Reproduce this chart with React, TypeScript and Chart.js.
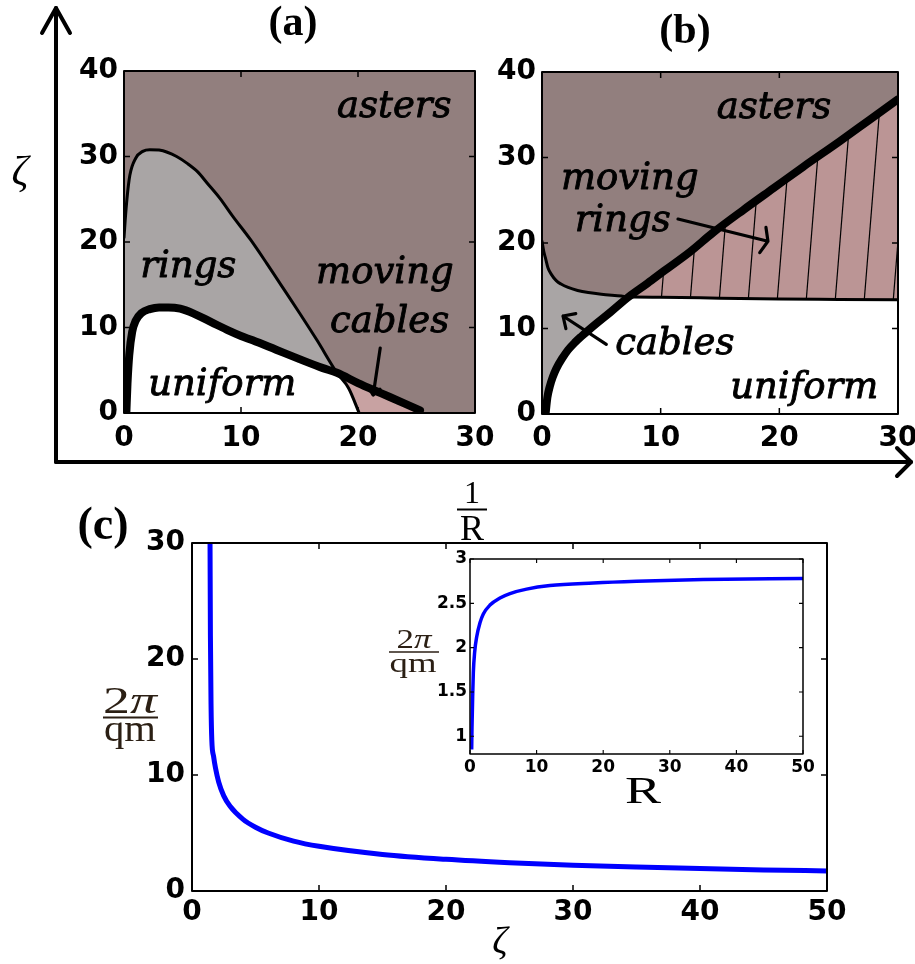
import React, { useEffect, useRef } from "react";
import { Chart, registerables } from "chart.js";

Chart.register(...registerables);

// ---------------- data ----------------
// panel (a): x = 1/R, y = zeta
const A_THIN_X = [0, 0.1, 0.25, 0.5, 1.0, 1.6, 2.2, 3.0, 3.7, 4.5, 5.4, 6.3, 7.1, 8.2, 9.3, 10.8, 12.2, 13.6, 15.0, 16.5, 18.2, 19.2, 20.1];
const A_THIN_Y = [20.5, 22.5, 25.0, 27.8, 29.8, 30.6, 30.8, 30.75, 30.5, 30.0, 29.2, 28.2, 26.9, 25.1, 23.0, 20.3, 17.5, 14.6, 11.7, 8.5, 4.7, 2.9, 0];
const A_THICK_X = [0.2, 0.3, 0.45, 0.7, 1.0, 1.5, 2.2, 3.0, 3.8, 4.8, 6.0, 7.5, 9.0, 10.0, 11.0, 13.0, 15.0, 17.0, 18.2, 20.0, 22.0, 24.0, 25.3];
const A_THICK_Y = [0, 3.5, 6.8, 9.5, 10.8, 11.7, 12.15, 12.35, 12.35, 12.2, 11.6, 10.6, 9.6, 9.0, 8.5, 7.4, 6.3, 5.25, 4.7, 3.5, 2.3, 1.1, 0.3];
const A_CROSS = 18.2;

// panel (b)
const B_THIN_X = [0, 0.15, 0.3, 0.5, 0.8, 1.2, 1.6, 2.2, 3.0, 3.9, 5.0, 6.7, 7.3, 10, 15, 20, 25, 30];
const B_THIN_Y = [20.2, 19.0, 18.2, 17.1, 16.3, 15.6, 15.2, 14.8, 14.45, 14.2, 14.0, 13.8, 13.7, 13.65, 13.55, 13.45, 13.4, 13.35];
const B_THICK_X = [0.3, 0.45, 0.65, 0.9, 1.2, 1.7, 2.2, 2.8, 3.3, 4.0, 4.6, 5.8, 7.3, 8.9, 10.3, 12.5, 14.4, 17.0, 19.5, 22.0, 25.1, 27.5, 30];
const B_THICK_Y = [0, 1.9, 3.2, 4.3, 5.3, 6.5, 7.5, 8.4, 9.05, 9.9, 10.6, 11.95, 13.7, 15.3, 16.75, 19.0, 21.2, 23.9, 26.4, 28.9, 31.9, 34.3, 36.8];
const B_CROSS = 7.3;

// panel (c): x = zeta, y = 2pi/qm
const C_ZETA = [1.42, 1.45, 1.5, 1.56, 1.7, 1.85, 2.1, 2.5, 3.0, 4.0, 5.0, 6.0, 8.0, 10, 15, 20, 25, 30, 35, 40, 45, 50];
const C_PERIOD = [30, 22, 16, 13, 11.6, 10.6, 9.4, 8.2, 7.3, 6.2, 5.5, 5.0, 4.3, 3.85, 3.15, 2.73, 2.44, 2.22, 2.06, 1.93, 1.82, 1.73];

// inset: x = R, y = 2pi/qm
const INSET_R = [0.25, 0.3, 0.4, 0.5, 0.7, 1.0, 1.5, 2.0, 3.0, 4.5, 6.0, 8.5, 12, 18.5, 25, 35, 50];
const INSET_PERIOD = [0.85, 1.1, 1.45, 1.72, 1.95, 2.12, 2.28, 2.38, 2.48, 2.56, 2.61, 2.66, 2.7, 2.73, 2.75, 2.77, 2.78];

// tick labels
const AB_X_TICKS = [0, 10, 20, 30];
const AB_Y_TICKS = [0, 10, 20, 30, 40];
const C_X_TICKS = [0, 10, 20, 30, 40, 50];
const C_Y_TICKS = [0, 10, 20, 30];
const INSET_X_TICKS = [0, 10, 20, 30, 40, 50];
const INSET_Y_TICKS = [1, 1.5, 2, 2.5, 3];

// region annotations (data coordinates)
const A_LABELS = [
  { text: "asters", x: 23.1, y: 34.6 },
  { text: "rings", x: 5.5, y: 15.9 },
  { text: "moving", x: 22.3, y: 15.2 },
  { text: "cables", x: 22.7, y: 9.5 },
  { text: "uniform", x: 8.4, y: 2.1 },
];
const A_ARROWS = [{ from: [21.9, 7.6], to: [21.3, 2.1], head: 9, spread: 40 }];
const B_LABELS = [
  { text: "asters", x: 19.55, y: 34.6 },
  { text: "moving", x: 7.4, y: 26.3 },
  { text: "rings", x: 6.8, y: 21.4 },
  { text: "cables", x: 11.2, y: 7.0 },
  { text: "uniform", x: 22.1, y: 1.87 },
];
const B_ARROWS = [
  { from: [11.46, 22.8], to: [19.04, 20.2], head: 14, spread: 68 },
  { from: [5.42, 8.15], to: [1.77, 11.46], head: 13, spread: 44 },
];

// ---------------- styles ----------------
const MAUVE = "#927f7e";
const GREY = "#a9a5a5";
const PINK_A = "#c8a2a2";
const PINK_B = "#bb9595";
const WHITE = "#ffffff";
const BLUE = "#0000ff";
const SANS = "'DejaVu Sans', sans-serif";
const ANNOT_FONT = "italic 37px 'DejaVu Serif', serif";

type P = { x: number; y: number };
const pts = (xs: number[], ys: number[]): P[] => xs.map((x, i) => ({ x, y: ys[i] }));

function axis(min: number, max: number, values: number[], size: number, pad: number, fit: number, position: string) {
  return {
    type: "linear",
    position,
    min,
    max,
    afterBuildTicks: (s: any) => {
      s.ticks = values.map((v) => ({ value: v }));
    },
    ticks: {
      font: { family: SANS, weight: "bold", size },
      color: "#000",
      padding: pad,
      autoSkip: false,
      maxRotation: 0,
      minRotation: 0,
      callback: (v: number) => String(v),
    },
    grid: { display: false, drawTicks: false },
    border: { display: false },
    afterFit: (s: any) => {
      if (s.isHorizontal()) s.height = fit;
      else s.width = fit;
      s.paddingLeft = 0;
      s.paddingRight = 0;
      s.paddingTop = 0;
      s.paddingBottom = 0;
    },
  };
}

function framePlugin(o: { bg?: string; lw: number; tick: number; labels?: any[]; arrows?: any[]; arrowWidth?: number }) {
  return {
    id: "frame",
    beforeDraw(chart: any) {
      if (!o.bg) return;
      const { ctx, chartArea: a } = chart;
      ctx.save();
      ctx.fillStyle = o.bg;
      ctx.fillRect(a.left, a.top, a.right - a.left, a.bottom - a.top);
      ctx.restore();
    },
    afterDatasetsDraw(chart: any) {
      const { ctx, chartArea: a, scales } = chart;
      const xs = scales.x;
      const ys = scales.y;
      ctx.save();
      ctx.fillStyle = "#000";
      ctx.strokeStyle = "#000";
      ctx.font = ANNOT_FONT;
      ctx.textAlign = "center";
      ctx.textBaseline = "alphabetic";
      ctx.lineWidth = 0.9;
      ctx.lineJoin = "round";
      for (const l of o.labels || []) {
        const px = xs.getPixelForValue(l.x);
        const py = ys.getPixelForValue(l.y);
        ctx.fillText(l.text, px, py);
        ctx.strokeText(l.text, px, py);
      }
      ctx.lineCap = "round";
      ctx.lineWidth = o.arrowWidth || 3;
      for (const ar of o.arrows || []) {
        const x1 = xs.getPixelForValue(ar.from[0]);
        const y1 = ys.getPixelForValue(ar.from[1]);
        const x2 = xs.getPixelForValue(ar.to[0]);
        const y2 = ys.getPixelForValue(ar.to[1]);
        const back = Math.atan2(y1 - y2, x1 - x2);
        const s = (ar.spread * Math.PI) / 180;
        ctx.beginPath();
        ctx.moveTo(x1, y1);
        ctx.lineTo(x2, y2);
        ctx.moveTo(x2 + ar.head * Math.cos(back + s), y2 + ar.head * Math.sin(back + s));
        ctx.lineTo(x2, y2);
        ctx.lineTo(x2 + ar.head * Math.cos(back - s), y2 + ar.head * Math.sin(back - s));
        ctx.stroke();
      }
      ctx.lineCap = "butt";
      ctx.lineWidth = o.lw;
      ctx.strokeRect(a.left, a.top, a.right - a.left, a.bottom - a.top);
      ctx.lineWidth = Math.max(1, o.lw * 0.75);
      ctx.beginPath();
      for (const t of xs.ticks) {
        const px = xs.getPixelForValue(t.value);
        ctx.moveTo(px, a.bottom);
        ctx.lineTo(px, a.bottom - o.tick);
        ctx.moveTo(px, a.top);
        ctx.lineTo(px, a.top + o.tick);
      }
      for (const t of ys.ticks) {
        const py = ys.getPixelForValue(t.value);
        ctx.moveTo(a.left, py);
        ctx.lineTo(a.left + o.tick, py);
        ctx.moveTo(a.right, py);
        ctx.lineTo(a.right - o.tick, py);
      }
      ctx.stroke();
      ctx.restore();
    },
  };
}

function hatch(color: string) {
  const W = 29;
  const H = 360;
  const c = document.createElement("canvas");
  c.width = W;
  c.height = H;
  const g = c.getContext("2d")!;
  g.fillStyle = color;
  g.fillRect(0, 0, W, H);
  g.strokeStyle = "#000";
  g.lineWidth = 1.2;
  for (const off of [-W, 0, W]) {
    g.beginPath();
    g.moveTo(W + off, 0);
    g.lineTo(off, H);
    g.stroke();
  }
  return g.createPattern(c, "repeat");
}

function phaseConfig(p: any) {
  const thin = pts(p.thinX, p.thinY);
  const thick = pts(p.thickX, p.thickY);
  // boundary of the "uniform" region: thick curve up to the crossing, then the thin curve
  const uniformEdge = thick.filter((q) => q.x <= p.cross).concat(thin.filter((q) => q.x > p.cross));
  const area = (data: P[], bg: any) => ({
    data,
    fill: "origin",
    backgroundColor: bg,
    borderColor: "rgba(0,0,0,0)",
    borderWidth: 0,
    pointRadius: 0,
    cubicInterpolationMode: "monotone",
    clip: 0,
  });
  const curve = (data: P[], bw: number) => ({
    data,
    fill: false,
    borderColor: "#000",
    borderWidth: bw,
    borderCapStyle: "round",
    borderJoinStyle: "round",
    pointRadius: 0,
    cubicInterpolationMode: "monotone",
    clip: 0,
  });
  return {
    type: "line",
    data: {
      datasets: [
        curve(thick, 8),
        curve(thin, 3),
        area(uniformEdge, WHITE),
        area(thick.filter((q) => q.x >= p.cross), p.pink),
        area(thin.filter((q) => q.x <= p.cross), GREY),
      ],
    },
    options: {
      responsive: false,
      maintainAspectRatio: false,
      animation: false,
      devicePixelRatio: 1,
      events: [],
      layout: { padding: p.padding },
      plugins: { legend: { display: false }, tooltip: { enabled: false }, filler: { drawTime: "beforeDatasetsDraw" } },
      scales: {
        x: axis(0, 30, AB_X_TICKS, 28, p.xPad, p.xFit, "bottom"),
        y: axis(0, 40, AB_Y_TICKS, 28, 6, 64, "left"),
      },
    },
    plugins: [framePlugin({ bg: MAUVE, lw: 2, tick: 6, labels: p.labels, arrows: p.arrows, arrowWidth: 3.2 })],
  };
}

function makeA() {
  return phaseConfig({
    thinX: A_THIN_X, thinY: A_THIN_Y, thickX: A_THICK_X, thickY: A_THICK_Y, cross: A_CROSS,
    pink: PINK_A, labels: A_LABELS, arrows: A_ARROWS,
    padding: { left: 0, top: 16, right: 25, bottom: 0 }, xPad: 9, xFit: 52,
  });
}

function makeB() {
  return phaseConfig({
    thinX: B_THIN_X, thinY: B_THIN_Y, thickX: B_THICK_X, thickY: B_THICK_Y, cross: B_CROSS,
    pink: hatch(PINK_B), labels: B_LABELS, arrows: B_ARROWS,
    padding: { left: 0, top: 17, right: 17, bottom: 0 }, xPad: 8, xFit: 51,
  });
}

function makeC() {
  return {
    type: "line",
    data: {
      datasets: [
        {
          data: pts(C_ZETA, C_PERIOD),
          borderColor: BLUE,
          borderWidth: 5,
          pointRadius: 0,
          fill: false,
          cubicInterpolationMode: "monotone",
          clip: 0,
        },
      ],
    },
    options: {
      responsive: false,
      maintainAspectRatio: false,
      animation: false,
      devicePixelRatio: 1,
      events: [],
      layout: { padding: { left: 0, top: 23, right: 33, bottom: 0 } },
      plugins: { legend: { display: false }, tooltip: { enabled: false } },
      scales: {
        x: axis(0, 50, C_X_TICKS, 28, 5, 73, "bottom"),
        y: axis(0, 30, C_Y_TICKS, 28, 7, 92, "left"),
      },
    },
    plugins: [framePlugin({ lw: 2, tick: 6 })],
  };
}

function makeInset() {
  return {
    type: "line",
    data: {
      datasets: [
        {
          data: pts(INSET_R, INSET_PERIOD),
          borderColor: BLUE,
          borderWidth: 3.5,
          pointRadius: 0,
          fill: false,
          cubicInterpolationMode: "monotone",
          clip: 0,
        },
      ],
    },
    options: {
      responsive: false,
      maintainAspectRatio: false,
      animation: false,
      devicePixelRatio: 1,
      events: [],
      layout: { padding: { left: 0, top: 14, right: 17, bottom: 0 } },
      plugins: { legend: { display: false }, tooltip: { enabled: false } },
      scales: {
        x: axis(0, 50, INSET_X_TICKS, 17, 3, 51, "bottom"),
        y: axis(0.8, 3, INSET_Y_TICKS, 17, 3, 50, "left"),
      },
    },
    plugins: [framePlugin({ bg: WHITE, lw: 1.5, tick: 4 })],
  };
}

function ChartBox(props: { left: number; top: number; width: number; height: number; make: () => any }) {
  const ref = useRef<HTMLCanvasElement>(null);
  useEffect(() => {
    const chart = new Chart(ref.current as HTMLCanvasElement, props.make());
    return () => chart.destroy();
  }, []);
  return (
    <canvas
      ref={ref}
      width={props.width}
      height={props.height}
      style={{ position: "absolute", left: props.left, top: props.top, width: props.width, height: props.height }}
    />
  );
}

const SERIF = "'Liberation Serif', serif";
const LABEL_INK = "#2b1f14";

export default function App() {
  return (
    <div style={{ position: "absolute", left: 0, top: 0, width: 915, height: 964, background: "#fff", overflow: "hidden" }}>
      <ChartBox left={60} top={55} width={440} height={410} make={makeA} />
      <ChartBox left={478} top={55} width={437} height={410} make={makeB} />
      <ChartBox left={100} top={520} width={760} height={444} make={makeC} />
      <ChartBox left={420} top={545} width={400} height={260} make={makeInset} />
      <svg width={915} height={964} style={{ position: "absolute", left: 0, top: 0, pointerEvents: "none" }}>
        <g stroke="#000" strokeWidth={4} fill="none" strokeLinecap="round" strokeLinejoin="round">
          <line x1={56} y1={462} x2={56} y2={8} />
          <polyline points="42,33 56,8 70,33" />
          <line x1={56} y1={462} x2={911} y2={462} />
          <polyline points="897,448 911,462 897,476" />
        </g>
        <g fontFamily={SERIF} fill="#000" textAnchor="middle">
          <text x={293} y={35} fontWeight="bold" fontSize={42}>(a)</text>
          <text x={685} y={43} fontWeight="bold" fontSize={42}>(b)</text>
          <text x={103} y={539} fontWeight="bold" fontSize={46}>(c)</text>
          <text x={20} y={185} fontStyle="italic" fontSize={42}>ζ</text>
          <text x={500} y={953} fontStyle="italic" fontSize={38}>ζ</text>
          <text x={472} y={503} fontSize={32}>1</text>
          <text x={472} y={540} fontSize={36}>R</text>
          <text x={643} y={803} fontSize={38} textLength={36} lengthAdjust="spacingAndGlyphs">R</text>
        </g>
        <line x1={457} y1={509.5} x2={487} y2={509.5} stroke="#000" strokeWidth={2} />
        <g fontFamily={SERIF} fill={LABEL_INK} textAnchor="middle">
          <text x={130} y={713} fontSize={38} textLength={54} lengthAdjust="spacingAndGlyphs">
            2<tspan fontStyle="italic">π</tspan>
          </text>
          <text x={130} y={741} fontSize={38} textLength={52} lengthAdjust="spacingAndGlyphs">qm</text>
          <text x={414} y={648} fontSize={28} textLength={35} lengthAdjust="spacingAndGlyphs">
            2<tspan fontStyle="italic">π</tspan>
          </text>
          <text x={413} y={672} fontSize={28} textLength={47} lengthAdjust="spacingAndGlyphs">qm</text>
        </g>
        <line x1={103} y1={717.5} x2={158} y2={717.5} stroke={LABEL_INK} strokeWidth={2} />
        <line x1={389} y1={652} x2={439} y2={652} stroke={LABEL_INK} strokeWidth={1.6} />
      </svg>
    </div>
  );
}
